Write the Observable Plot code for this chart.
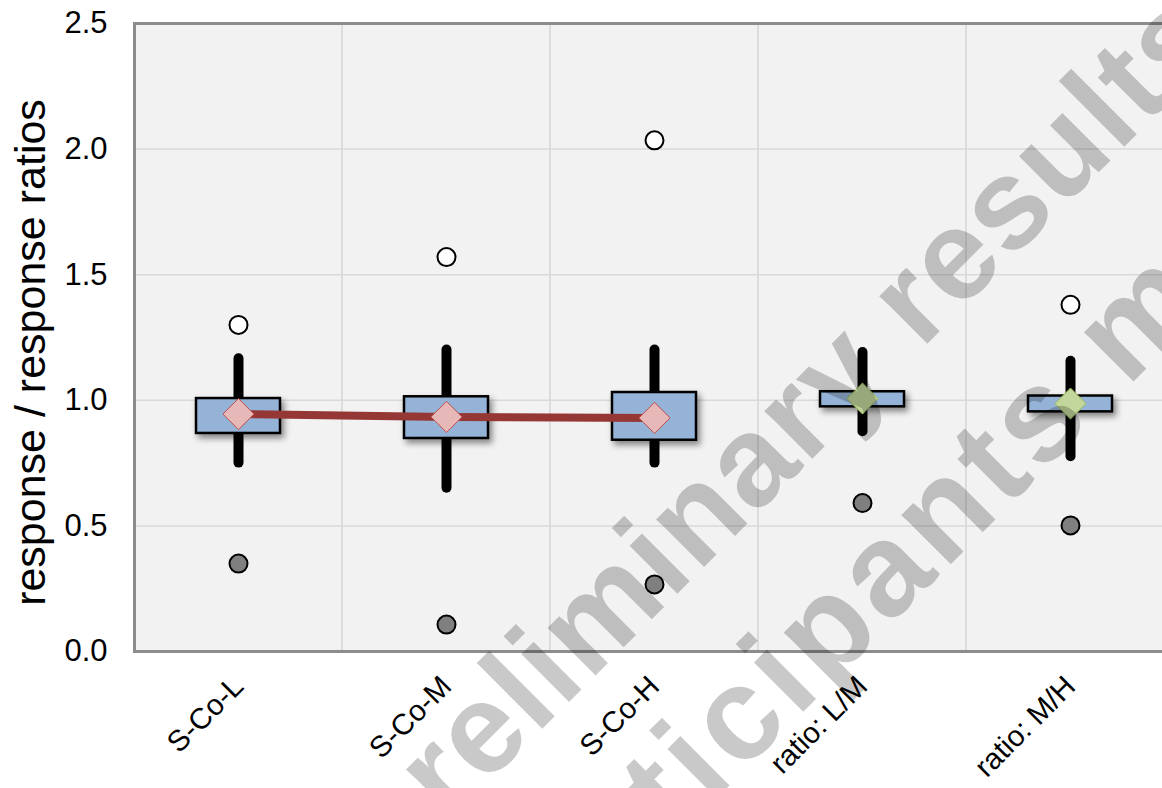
<!DOCTYPE html>
<html>
<head>
<meta charset="utf-8">
<script src="https://cdn.jsdelivr.net/npm/d3@7"></script>
<script src="https://cdn.jsdelivr.net/npm/@observablehq/plot@0.6"></script>
<style>
  html, body { margin: 0; padding: 0; background: #fff; overflow: hidden; }
  #chart { position: relative; width: 1162px; height: 788px; overflow: hidden; }
  #chart svg.wm { position: absolute; left: 0; top: 0; pointer-events: none; }
</style>
</head>
<body>
<div id="chart"></div>
<script>
// Categories along the x axis
const categories = ["S-Co-L", "S-Co-M", "S-Co-H", "ratio: L/M", "ratio: M/H"];

// Box-and-whisker statistics per category
const whiskerLow  = [0.75, 0.65, 0.75, 0.875, 0.775];
const whiskerHigh = [1.165, 1.20, 1.20, 1.19, 1.155];
const boxLow      = [0.868, 0.848, 0.841, 0.974, 0.954];
const boxHigh     = [1.007, 1.014, 1.031, 1.034, 1.017];
const means       = [0.945, 0.934, 0.930, 1.007, 0.987];
const highOutlier = [1.30, 1.57, 2.035, null, 1.38];
const lowOutlier  = [0.35, 0.107, 0.267, 0.591, 0.502];

// Responses vs. ratios (ratio means get a different marker colour)
const responseCats = ["S-Co-L", "S-Co-M", "S-Co-H"];
const ratioCats = ["ratio: L/M", "ratio: M/H"];

// Axis settings
const yDomain = [0, 2.5];
const yTicks = [0, 0.5, 1.0, 1.5, 2.0, 2.5];
const yLabel = "response / response ratios";
const watermarkLines = ["preliminary results", "participants m"];

const table = categories.map((cat, i) => ({
  cat,
  wLo: whiskerLow[i], wHi: whiskerHigh[i],
  bLo: boxLow[i], bHi: boxHigh[i],
  mean: means[i], hi: highOutlier[i], lo: lowOutlier[i]
}));
const responses = table.filter(d => responseCats.includes(d.cat));
const ratios = table.filter(d => ratioCats.includes(d.cat));

const font = "'Liberation Sans', Arial, sans-serif";

const chart = Plot.plot({
  width: 1180,
  height: 788,
  marginLeft: 134,
  marginRight: 6,
  marginTop: 23,
  marginBottom: 137,
  style: {fontFamily: font, background: "transparent", overflow: "visible", maxWidth: "none"},
  x: {domain: categories, padding: 0, label: null},
  y: {domain: yDomain, label: null},
  marks: [
    // plot background with vertical grid at category boundaries
    Plot.cell(categories, {x: d => d, fill: "#f2f2f2", stroke: "#d9d9d9", strokeWidth: 1.5, inset: 0}),
    Plot.gridY(yTicks, {stroke: "#d9d9d9", strokeOpacity: 1, strokeWidth: 1.5}),
    Plot.axisY(yTicks, {tickSize: 0, tickPadding: 27, fontSize: 31, tickFormat: d3.format(".1f"), label: null}),
    Plot.axisX({tickSize: 0, tickPadding: 30, tickRotate: -45, fontSize: 29.5, label: null}),
    // whiskers
    Plot.ruleX(table, {x: "cat", y1: "wLo", y2: "wHi", stroke: "#000", strokeWidth: 10, strokeLinecap: "round"}),
    // interquartile boxes
    Plot.barY(table, {x: "cat", y1: "bLo", y2: "bHi", fill: "#95b3d7", stroke: "#000", strokeWidth: 2.5, insetLeft: 62, insetRight: 62}),
    // trend of response means
    Plot.line(responses, {x: "cat", y: "mean", stroke: "#953735", strokeWidth: 8}),
    // means
    Plot.dot(responses, {x: "cat", y: "mean", symbol: "diamond2", r: 14, fill: "#e6b9b8", stroke: "#c0504d", strokeWidth: 1}),
    Plot.dot(ratios, {x: "cat", y: "mean", symbol: "diamond2", r: 14, fill: "#c3d69b", stroke: "#9bbb59", strokeWidth: 1}),
    // outliers
    Plot.dot(table.filter(d => d.hi != null), {x: "cat", y: "hi", r: 9, fill: "#fff", stroke: "#000", strokeWidth: 2}),
    Plot.dot(table, {x: "cat", y: "lo", r: 9, fill: "#7f7f7f", stroke: "#000", strokeWidth: 2}),
    Plot.frame({stroke: "#8c8c8c", strokeWidth: 3}),
    // y axis title
    Plot.text([yLabel], {frameAnchor: "left", rotate: -90, dx: -103, dy: 15, fontSize: 43, textAnchor: "middle", fill: "#000"})
  ]
});

// soft shadow under the boxes
d3.select(chart).selectAll('g[aria-label="bar"] rect')
  .style("filter", "drop-shadow(3px 4px 3px rgba(0,0,0,0.45))");

const root = document.getElementById("chart");
root.appendChild(chart);

// diagonal watermark over the chart
const wm = d3.select(root).append("svg")
  .attr("class", "wm")
  .attr("width", 1162).attr("height", 788);
const wmSpec = [
  {text: watermarkLines[0], x: 391, y: 880, size: 128, spacing: 2},
  {text: watermarkLines[1], x: 517, y: 998, size: 132, spacing: 6}
];
wm.selectAll("text").data(wmSpec).join("text")
  .attr("transform", d => `translate(${d.x},${d.y}) rotate(-45)`)
  .attr("font-family", font)
  .attr("font-weight", "bold")
  .attr("font-size", d => d.size)
  .attr("letter-spacing", d => d.spacing)
  .attr("fill", "#000")
  .attr("fill-opacity", 0.21)
  .text(d => d.text);
</script>
</body>
</html>
